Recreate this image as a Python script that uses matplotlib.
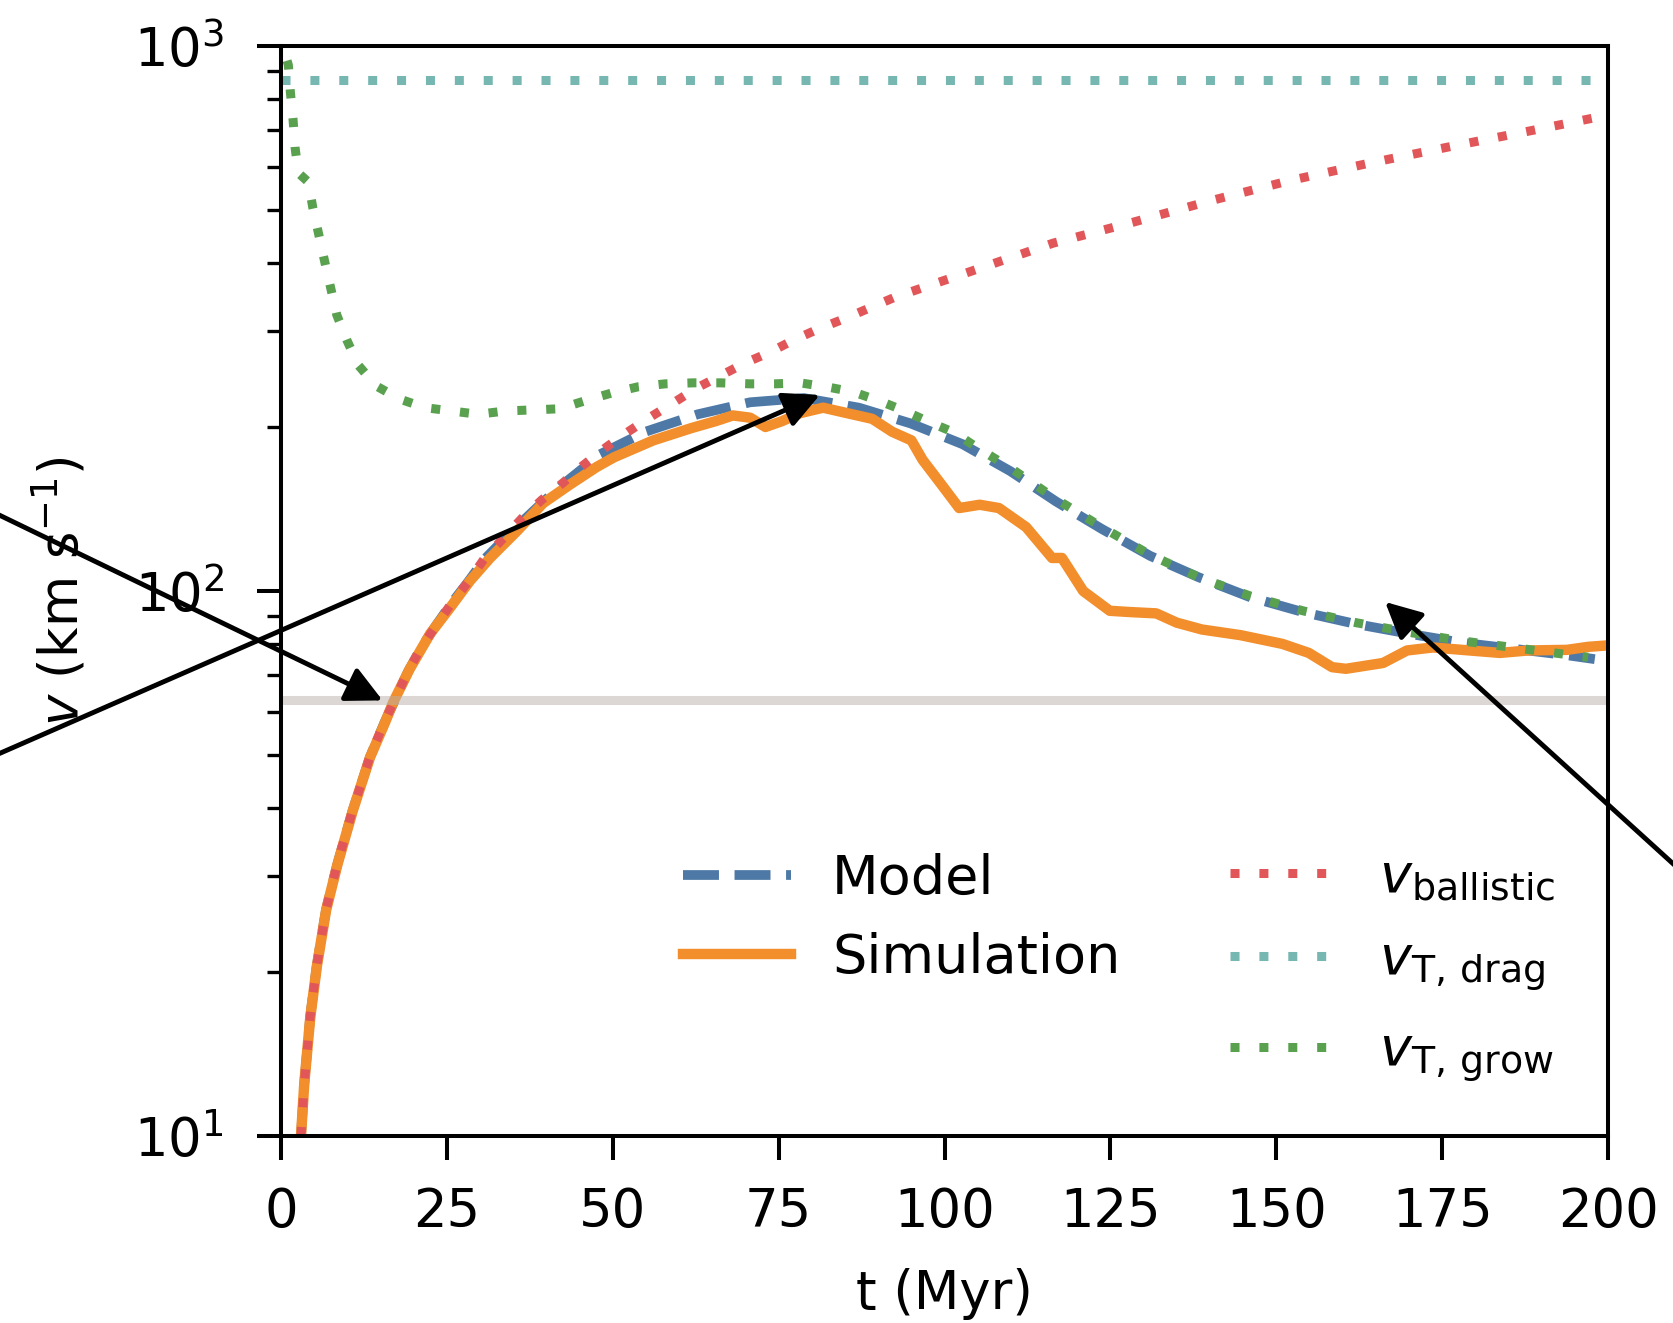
import matplotlib
matplotlib.use('Agg')
import matplotlib.pyplot as plt
import numpy as np

# simulation (orange)
t_sim = [3.0, 3.5, 4.4, 5.4, 6.8, 8.5, 10.8, 13.4, 15.7, 16.9, 19.4, 22.5, 25.5, 28.5, 31.5,
         35.6, 39.5, 43.6, 47.6, 50.2, 56.1, 61.8, 65.5, 68.1, 70.7, 73.0, 75.5, 78.2,
         81.7, 84.6, 89.1, 92.1, 95.0, 96.7, 99.5, 102.2, 105.3, 108.2, 112.3, 116.2,
         117.7, 120.9, 124.9, 128.0, 131.9, 135.0, 138.8, 144.6, 150.9, 154.9, 158.4,
         160.5, 163.0, 166.1, 169.7, 173.6, 178.0, 183.7, 188.0, 193.8, 197.0, 200.0]
v_sim = [10.0, 12.5, 16.5, 20.5, 26.0, 31.5, 39.5, 49.5, 57.5, 62.5, 72.0, 83.6, 93.3, 104.5, 115.0,
         129.0, 145.0, 157.0, 169.0, 176.0, 189.0, 199.0, 205.0, 210.0, 208.0, 200.0, 205.0, 212.0,
         217.0, 213.0, 207.0, 196.0, 189.0, 174.0, 157.0, 142.0, 144.0, 142.0, 131.0, 115.0,
         115.0, 100.0, 92.0, 91.5, 91.0, 87.5, 85.0, 83.0, 80.0, 77.0, 72.5,
         72.0, 72.8, 73.8, 77.8, 78.8, 78.0, 77.0, 77.8, 78.0, 79.0, 79.5]

# model (blue dashed)
t_model = [3.0, 3.5, 4.4, 5.4, 6.8, 8.5, 10.8, 13.4, 15.7, 17.4, 19.1, 21.2, 23.5, 25.7, 28.2,
           30.7, 33.5, 36.3, 39.3, 42.5, 45.5, 48.0, 54.9, 62.8, 70.7, 78.8, 87.1, 94.9,
           102.7, 109.9, 116.8, 123.7, 131.0, 138.3, 146.0, 154.0, 162.0, 170.0, 178.0,
           186.0, 194.0, 198.0]
v_model = [10.0, 12.5, 16.6, 20.6, 26.1, 31.6, 39.6, 49.6, 57.8, 64.0, 71.0, 79.0, 87.0, 95.0, 104.0,
           114.5, 124.0, 134.0, 145.0, 157.0, 168.0, 178.0, 196.0, 211.0, 222.0, 226.0, 217.0, 203.0,
           186.0, 166.0, 146.0, 130.0, 116.0, 106.0, 97.5, 91.5, 87.0, 83.5, 80.4,
           78.3, 76.2, 75.0]

# ballistic velocity
t_ball = [3.0, 3.5, 4.4, 5.4, 6.8, 8.5, 10.8, 13.4, 15.7, 17.4, 19.1, 21.2, 23.5, 25.7, 28.2,
          30.7, 33.5, 36.3, 39.3, 42.5, 45.5, 49.1, 52.3, 55.5, 59.0, 62.7, 66.4, 69.9,
          73.6, 77.3, 81.1, 84.9, 92.5, 104.5, 116.4, 128.4, 140.3, 152.2, 164.1, 176.0,
          188.8, 200.0]
v_ball = [10.0, 12.5, 16.6, 20.6, 26.1, 31.7, 39.7, 49.7, 58.0, 64.2, 71.2, 79.0, 87.0, 95.0, 104.0,
          115.0, 125.0, 136.0, 147.0, 158.0, 170.0, 184.0, 196.0, 208.0, 221.0, 236.0, 249.0, 262.0,
          274.0, 289.0, 303.0, 316.0, 346.0, 388.0, 435.0, 475.0, 521.0, 567.0, 610.0, 653.0,
          701.0, 747.0]

# terminal velocity from drag
t_drag = [0.0, 200.0]
v_drag = [865.0, 865.0]

# terminal velocity from growth
t_grow = [0.9, 1.1, 1.4, 1.8, 2.1, 2.6, 4.1, 4.8, 5.7, 6.6, 7.5, 8.4, 9.9, 11.6, 14.3,
          17.9, 21.7, 25.7, 29.7, 33.8, 38.0, 42.0, 46.1, 49.9, 53.8, 57.9, 62.1, 66.2,
          70.7, 74.5, 78.2, 82.2, 86.2, 90.3, 94.0, 97.8, 101.6, 105.0, 110.0, 116.8,
          123.7, 131.0, 138.3, 146.0, 154.0, 162.0, 170.0, 178.0, 186.0, 194.0, 197.0]
v_grow = [940, 923, 824, 735, 653, 585, 563, 504, 450, 401, 359, 321, 289, 260, 238,
          225, 217, 214, 211, 214, 215, 216, 224, 231, 237, 240, 241, 241,
          240, 240, 241, 237, 232, 223, 214, 204, 195, 183, 168, 147.5,
          131, 116.5, 106, 98, 92, 87.5, 84, 81, 78.7, 76.4, 75.6]

v_ref = 63.0

c_model = '#4e79a7'
c_sim = '#f28e2b'
c_ball = '#e15759'
c_drag = '#76b7b2'
c_grow = '#59a14f'
c_ref = '#bab0ac'

fig = plt.figure(figsize=(16.74, 13.23), dpi=100)
ax = fig.add_axes([0.1679, 0.1413, 0.7927, 0.8239])

dots = (1, 2.2)
h_model, = ax.plot(t_model, v_model, '--', color=c_model, lw=7, label='Model')
h_sim, = ax.plot(t_sim, v_sim, '-', color=c_sim, lw=7.5, label='Simulation')
h_ball, = ax.plot(t_ball, v_ball, color=c_ball, lw=6.5, dashes=dots,
                  label=r'$v_{\rm ballistic}$')
h_drag, = ax.plot(t_drag, v_drag, color=c_drag, lw=6.5, dashes=dots,
                  label=r'$v_{\rm T,\,drag}$')
h_grow, = ax.plot(t_grow, v_grow, color=c_grow, lw=6.5, dashes=dots,
                  label=r'$v_{\rm T,\,grow}$')
ax.axhline(v_ref, color=c_ref, alpha=0.5, lw=6.5)

ax.set_yscale('log')
ax.set_xlim(0, 200)
ax.set_ylim(10, 1000)
ax.set_xticks(np.arange(0, 201, 25))

for s in ax.spines.values():
    s.set_linewidth(2.9)
ax.tick_params(which='major', length=17, width=2.9, labelsize=38)
ax.tick_params(which='minor', length=10, width=2.4)
ax.tick_params(axis='x', pad=19)
ax.tick_params(axis='y', pad=24)

ax.set_xlabel('t (Myr)', fontsize=38)
ax.set_ylabel(r'$v$ (km s$^{-1}$)', fontsize=38)
ax.xaxis.set_label_coords(0.5, -0.121)
ax.yaxis.set_label_coords(-0.144, 0.5)

leg_kw = dict(loc='upper left', frameon=False, fontsize=39, handlelength=2.0,
              handletextpad=0.75, borderpad=0, borderaxespad=0)
leg1 = ax.legend(handles=[h_model, h_sim], bbox_to_anchor=(0.303, 0.26),
                 labelspacing=0.5, **leg_kw)
ax.add_artist(leg1)
ax.legend(handles=[h_ball, h_drag, h_grow], bbox_to_anchor=(0.715, 0.262),
          labelspacing=0.58, **leg_kw)

# arrows pointing in from neighbouring panels
arrow_kw = dict(arrowstyle='-|>', color='k', lw=3.5, mutation_scale=55, shrinkA=0, shrinkB=0)
ax.annotate('', xy=(15.3, 63), xycoords='data', xytext=(-0.05, 0.641),
            textcoords='figure fraction', arrowprops=arrow_kw, annotation_clip=False)
ax.annotate('', xy=(81.2, 229), xycoords='data', xytext=(-0.05, 0.403),
            textcoords='figure fraction', arrowprops=arrow_kw, annotation_clip=False)
ax.annotate('', xy=(166.4, 95.5), xycoords='data', xytext=(1.05, 0.289),
            textcoords='figure fraction', arrowprops=arrow_kw, annotation_clip=False)

fig.savefig('out.png', dpi=100)
